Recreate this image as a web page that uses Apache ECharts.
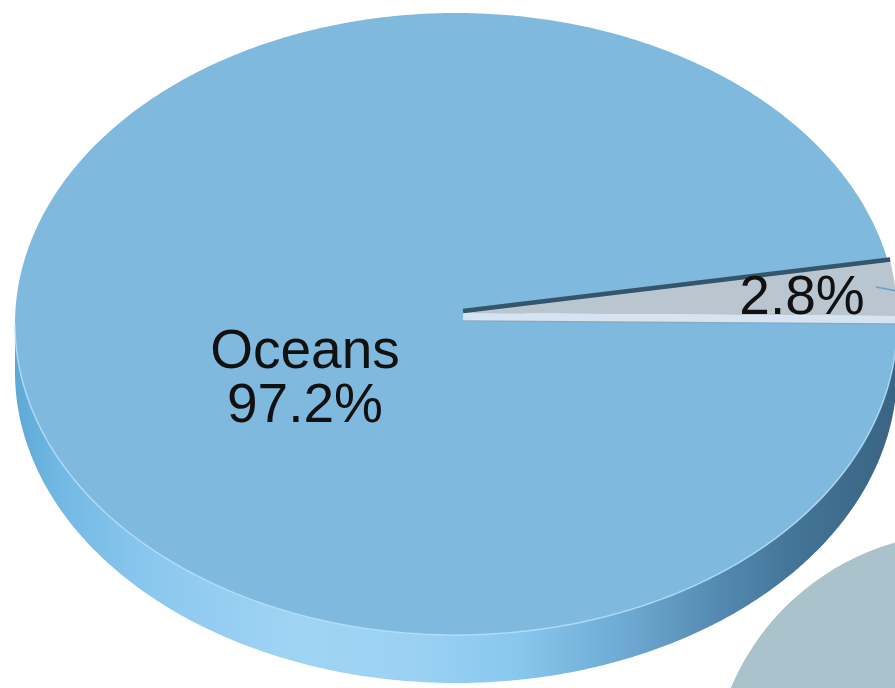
<!DOCTYPE html>
<html>
<head>
<meta charset="utf-8">
<script src="https://cdn.jsdelivr.net/npm/echarts@6/dist/echarts.min.js"></script>
<style>
html,body{margin:0;padding:0;background:#fff;}
#c{width:895px;height:688px;}
</style>
</head>
<body>
<div id="c"></div>
<script>
// ---- data ----
const categories = ['Fresh water', 'Oceans'];
const values = [2.8, 97.2];
const valueLabels = ['2.8%', '97.2%'];
const secondCategories = ['Fresh water'];
const secondValues = [2.8];

// ---- style / layout ----
const G = { cx: 456, cy: 324, rx: 441, ry: 311, apexX: 463, apexY: 321, depth: 48, lift: 8 };
const exploded = [true, false];
const faceColors = ['#b9c6d0', '#80b9de'];
const labelPos = [[802, 299], [305, 380]];
const labelText = ['{v}', '{n}\n{v}'];

const total = values.reduce((a, b) => a + b, 0);
function E(t, dy) { return [G.cx + G.rx * Math.cos(t), G.cy - G.ry * Math.sin(t) + (dy || 0)]; }
function arc(t0, t1, dy) {
  const pts = [];
  const n = Math.max(4, Math.ceil(Math.abs(t1 - t0) / (Math.PI / 360)));
  for (let i = 0; i <= n; i++) pts.push(E(t0 + (t1 - t0) * i / n, dy));
  return pts;
}

function renderItem(params, api) {
  const idx = params.dataIndex;
  const v = api.value(0);
  let before = 0;
  for (let i = 0; i < idx; i++) before += values[i];
  const start = before / total * Math.PI * 2;
  const end = start + v / total * Math.PI * 2;
  const children = [];
  const lift = exploded[idx] ? G.lift : 0;
  const apex = [G.apexX, G.apexY - lift];

  // front side wall (angles between PI and 2PI)
  const s0 = Math.max(start, Math.PI), s1 = Math.min(end, Math.PI * 2);
  if (s1 > s0) {
    const top = arc(s0, s1, 0);
    const bot = arc(s1, s0, G.depth);
    children.push({
      type: 'polygon', z2: 0,
      shape: { points: top.concat(bot) },
      style: {
        fill: {
          type: 'linear', x: 0, y: 0, x2: 1, y2: 0,
          colorStops: [
            { offset: 0, color: '#5ea8d6' },
            { offset: 0.05, color: '#72b8e3' },
            { offset: 0.15, color: '#8ac7ee' },
            { offset: 0.32, color: '#a0d4f4' },
            { offset: 0.46, color: '#9ad1f3' },
            { offset: 0.57, color: '#88c7ee' },
            { offset: 0.69, color: '#6eaad3' },
            { offset: 0.8, color: '#5389b0' },
            { offset: 0.89, color: '#437395' },
            { offset: 1, color: '#3a6483' }
          ]
        }
      }
    });
    children.push({
      type: 'polyline', z2: 2,
      shape: { points: arc(s0, s1, 0) },
      style: { stroke: 'rgba(180,224,250,0.8)', lineWidth: 1.5, fill: null }
    });
  }

  // top face
  children.push({
    type: 'polygon', z2: exploded[idx] ? 3 : 1,
    shape: { points: [apex].concat(arc(start, end, -lift)) },
    style: { fill: faceColors[idx] }
  });

  if (exploded[idx]) {
    const e0t = E(start, -lift), e0b = E(start, 0);
    // radial wall under the raised slice
    children.push({
      type: 'polygon', z2: 3,
      shape: { points: [apex, e0t, e0b, [G.apexX, G.apexY]] },
      style: { fill: '#d6e4f1' }
    });
    children.push({
      type: 'line', z2: 4,
      shape: { x1: G.apexX, y1: G.apexY, x2: e0b[0], y2: e0b[1] },
      style: { stroke: '#8aaac4', lineWidth: 1.5 }
    });
    const e1 = E(end, -lift);
    children.push({
      type: 'line', z2: 4,
      shape: { x1: apex[0], y1: apex[1] - 2, x2: e1[0], y2: e1[1] - 2 },
      style: { stroke: '#34556c', lineWidth: 4.5 }
    });
  }

  // label
  const lp = labelPos[idx];
  const txt = labelText[idx].replace('{n}', categories[idx]).replace('{v}', valueLabels[idx]);
  children.push({
    type: 'text', z2: 10, x: lp[0], y: lp[1],
    style: {
      text: txt, fill: '#111', fontSize: 55, fontFamily: '"Liberation Sans", Arial, sans-serif',
      align: 'center', verticalAlign: 'middle', lineHeight: 54
    }
  });
  if (exploded[idx]) {
    children.push({
      type: 'line', z2: 10,
      shape: { x1: lp[0] + 74, y1: lp[1] - 12, x2: lp[0] + 95, y2: lp[1] - 8 },
      style: { stroke: '#5fa3d3', lineWidth: 1.5 }
    });
  }
  return { type: 'group', children: children };
}

const chart = echarts.init(document.getElementById('c'), null, { renderer: 'canvas' });
chart.setOption({
  animation: false,
  backgroundColor: '#ffffff',
  series: [
    {
      type: 'pie',
      silent: true,
      center: [964, 786],
      radius: 253,
      label: { show: false },
      labelLine: { show: false },
      itemStyle: { color: '#aac2cc' },
      data: secondCategories.map((n, i) => ({ name: n, value: secondValues[i] }))
    },
    {
      type: 'custom',
      coordinateSystem: 'none',
      silent: true,
      renderItem: renderItem,
      data: categories.map((n, i) => ({ name: n, value: [values[i]] }))
    }
  ]
});
</script>
</body>
</html>
